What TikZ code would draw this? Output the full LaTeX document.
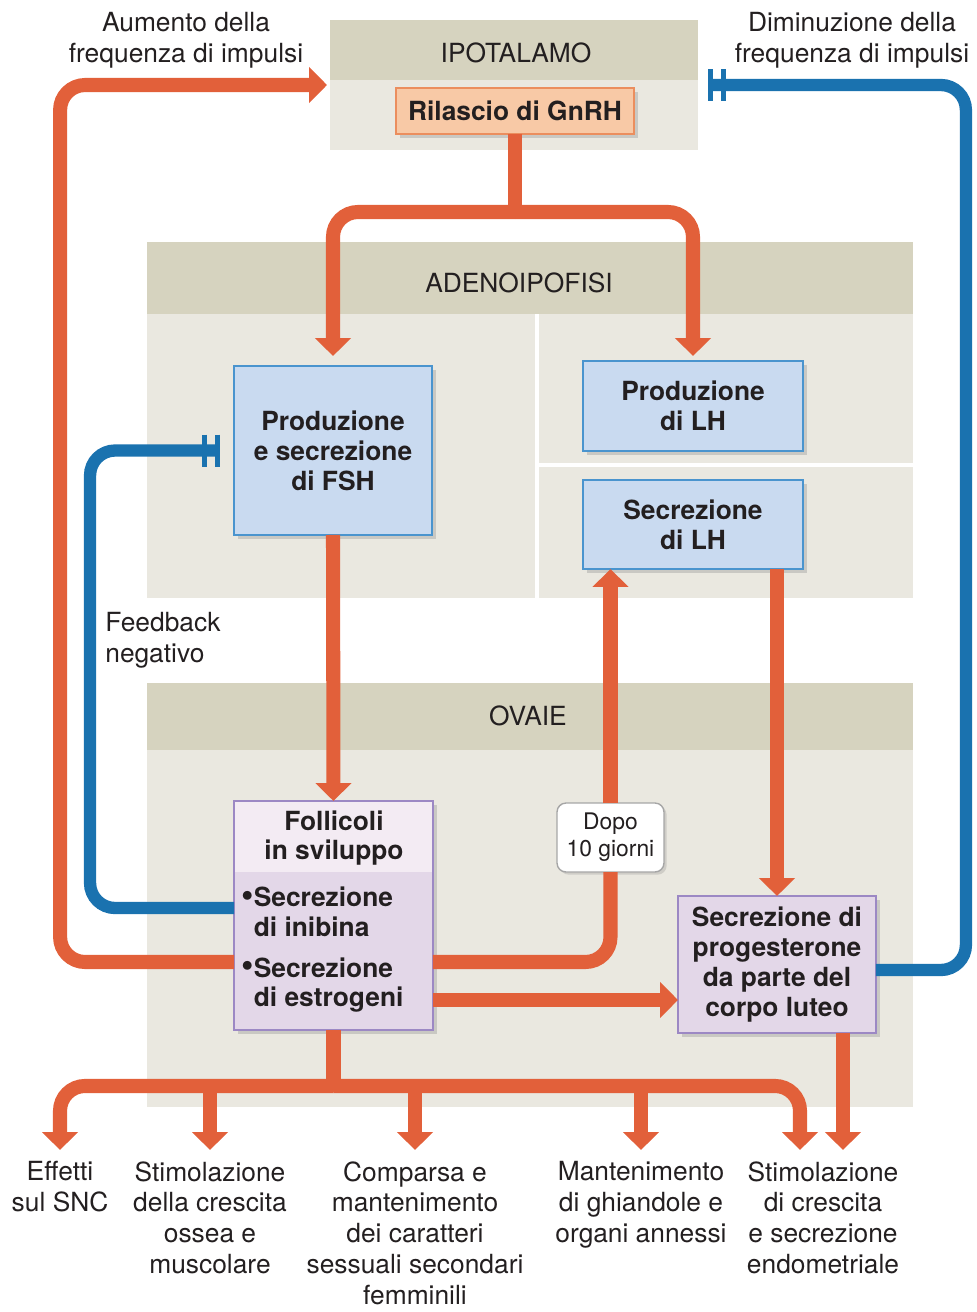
\documentclass[tikz,border=0pt]{standalone}
\usepackage{fontspec}
\setmainfont{TeX Gyre Heros}
\usetikzlibrary{arrows.meta,shadows,calc}
\definecolor{org}{HTML}{E2603A}
\definecolor{blu}{HTML}{1A72AF}
\definecolor{hdr}{HTML}{D6D3BF}
\definecolor{bdy}{HTML}{EAE8E0}
\definecolor{pfill}{HTML}{F8C9A6}
\definecolor{pline}{HTML}{EB8E5E}
\definecolor{bfill}{HTML}{C9DAF0}
\definecolor{bline}{HTML}{4A94CE}
\definecolor{vfill}{HTML}{E3D7E8}
\definecolor{vtop}{HTML}{F3EBF3}
\definecolor{vline}{HTML}{9C88C4}
\definecolor{txt}{HTML}{231F20}
\newcommand{\bul}{\raisebox{0.05ex}{\scalebox{1.35}{•}}}
\begin{document}
\begin{tikzpicture}[x=0.02cm,y=-0.02cm,
  every node/.style={text=txt},
  panel/.style={fill=bdy, inner sep=0pt, outer sep=0pt},
  hlabel/.style={font=\fontsize{15}{17.6}\selectfont, inner sep=0pt},
  box/.style={draw, line width=1.5pt, align=center, inner sep=0pt, outer sep=0pt,
    font=\bfseries\fontsize{15}{17}\selectfont,
    drop shadow={shadow xshift=2.5pt, shadow yshift=-2.5pt, opacity=.3}},
  pbox/.style={box, fill=pfill, draw=pline},
  bbox/.style={box, fill=bfill, draw=bline},
  vbox/.style={box, fill=vfill, draw=vline},
  btxt/.style={font=\bfseries\fontsize{15}{17}\selectfont, inner sep=0pt, align=left},
  lbl/.style={font=\fontsize{15}{17.6}\selectfont, align=center, inner xsep=0pt, inner ysep=0.22cm},
  oline/.style={draw=org, line width=8pt},
  oarr/.style={oline, -{Triangle[length=0.36cm,width=0.7cm]}},
  bline2/.style={draw=blu, line width=7pt,
    -{Bar[width=0.64cm,line width=2.8pt,sep=0.17cm]Bar[width=0.64cm,line width=2.8pt]}},
  rc/.style={rounded corners=0.5cm}
]
\useasboundingbox (0,0) rectangle (977,1312);

% ---------- panels ----------
\node[panel, minimum width=7.36cm, minimum height=2.6cm] (ipot) at (514,85) {};
\fill[hdr] (ipot.north west) rectangle ([yshift=-1.2cm]ipot.north east);
\node[hlabel] (ipotl) at (516,53) {IPOTALAMO};

\node[panel, minimum width=15.32cm, minimum height=7.12cm] (adeno) at (530,420) {};
\fill[hdr] (adeno.north west) rectangle ([yshift=-1.44cm]adeno.north east);
\node[hlabel] (adenol) at (519,283) {ADENOIPOFISI};
\draw[white, line width=0.08cm] (537,314) -- (537,598);
\draw[white, line width=0.08cm] (537,465) -- (913,465);

\node[panel, minimum width=15.32cm, minimum height=8.48cm] (ova) at (530,895) {};
\fill[hdr] (ova.north west) rectangle ([yshift=-1.34cm]ova.north east);
\node[hlabel] (oval) at (528,716) {OVAIE};

% ---------- boxes ----------
\node[pbox, minimum width=4.76cm, minimum height=0.92cm] (gnrh) at (515,111) {Rilascio di GnRH};
\node[bbox, minimum width=3.96cm, minimum height=3.38cm] (fsh) at (333,450.5) {Produzione\\e secrezione\\di FSH};
\node[bbox, minimum width=4.4cm, minimum height=1.8cm] (plh) at (693,406) {Produzione\\di LH};
\node[bbox, minimum width=4.4cm, minimum height=1.78cm] (slh) at (693,524.5) {Secrezione\\di LH};
\node[vbox, minimum width=3.98cm, minimum height=4.58cm] (foll) at (333.5,915.5) {};
\fill[vtop] (foll.north west) rectangle ([yshift=-1.42cm]foll.north east);
\draw[vline, line width=1.5pt] (foll.north west) rectangle (foll.south east);
\node[btxt, align=center] (follt) at (334,838) {Follicoli\\in sviluppo};
\node[btxt, anchor=west] (fb1) at (241,912) {\bul Secrezione\\\phantom{\bul}di inibina};
\node[btxt, anchor=west] (fb2) at (241,985) {\bul Secrezione\\\phantom{\bul}di estrogeni};
\node[vbox, minimum width=3.96cm, minimum height=2.74cm] (prog) at (777,964.5) {Secrezione di\\progesterone\\da parte del\\corpo luteo};
\node[draw=gray!70, fill=white, line width=0.8pt, rounded corners=0.18cm, align=center,
  inner sep=0pt, outer sep=0pt, minimum width=2.14cm, minimum height=1.38cm,
  font=\fontsize{13}{15.3}\selectfont,
  drop shadow={shadow xshift=1.5pt, shadow yshift=-1.5pt, opacity=.25}] (dopo) at (610.5,837.5) {Dopo\\10 giorni};

% ---------- free labels ----------
\node[hlabel, align=center] (aum) at (186,40) {Aumento della\\frequenza di impulsi};
\node[hlabel, align=center] (dim) at (852,40) {Diminuzione della\\frequenza di impulsi};
\node[hlabel, align=left, anchor=west] (fbn) at (105,640) {Feedback\\negativo};

\node[lbl, anchor=north] (t1) at (60,1150) {Effetti\\sul SNC};
\node[lbl, anchor=north] (t2) at (210,1150) {Stimolazione\\della crescita\\ossea e\\muscolare};
\node[lbl, anchor=north] (t3) at (415,1150) {Comparsa e\\mantenimento\\dei caratteri\\sessuali secondari\\femminili};
\node[lbl, anchor=north] (t4) at (641,1150) {Mantenimento\\di ghiandole e\\organi annessi};
\node[lbl, anchor=north] (t5) at (823,1150) {Stimolazione\\di crescita\\e secrezione\\endometriale};

% ---------- connectors ----------
\coordinate (gj) at ($(gnrh.south)+(0,78)$);
\draw[oline] (gnrh.south) -- ($(gj)+(0,6)$);
\draw[oarr, rc, shorten >=0.2cm] (gj) -| (fsh.north);
\draw[oarr, rc, shorten >=0.1cm] (gj) -| (plh.north);
\draw[oarr] (fsh.south) -- (foll.north);

% loop to hypothalamus
\draw[oarr, rc, shorten >=0.06cm] ([yshift=-0.93cm]foll.west) -| ([xshift=-5.4cm]ipot.west) -- (ipot.west);
% negative feedback inhibin
\draw[bline2, rc, shorten >=0.28cm] ([yshift=0.15cm]foll.west) -| ([xshift=-2.88cm]fsh.west) -- (fsh.west);
% progesterone feedback
\draw[bline2, rc, shorten >=0.2cm] ([yshift=-0.11cm]prog.east) -| ([xshift=5.36cm]ipot.east) -- (ipot.east);

% to LH via "Dopo 10 giorni"
\draw[oline, rc] ([yshift=-0.93cm]foll.east) -| (dopo.south);
\draw[oarr] (dopo.north) -- (dopo.north |- slh.south);
\draw[oarr] (slh.south -| prog.north) -- (prog.north);
\coordinate (fe2) at ([yshift=-1.69cm]foll.east);
\draw[oarr] (fe2) -- (fe2 -| prog.west);

% bottom effects
\coordinate (bj) at ([yshift=-1.12cm]foll.south);
\draw[oline] (foll.south) -- ($(bj)+(0,6)$);
\draw[oarr, rc] (bj) -| (t1.north);
\draw[oarr, rc] (bj) -| ([xshift=-0.46cm]t5.north);
\draw[oarr] (t2.north |- bj) -- (t2.north);
\draw[oarr] (t3.north |- bj) -- (t3.north);
\draw[oarr] (t4.north |- bj) -- (t4.north);
\coordinate (ps) at ([xshift=1.32cm]prog.south);
\draw[oarr] (ps) -- (ps |- t5.north);
\end{tikzpicture}
\end{document}
